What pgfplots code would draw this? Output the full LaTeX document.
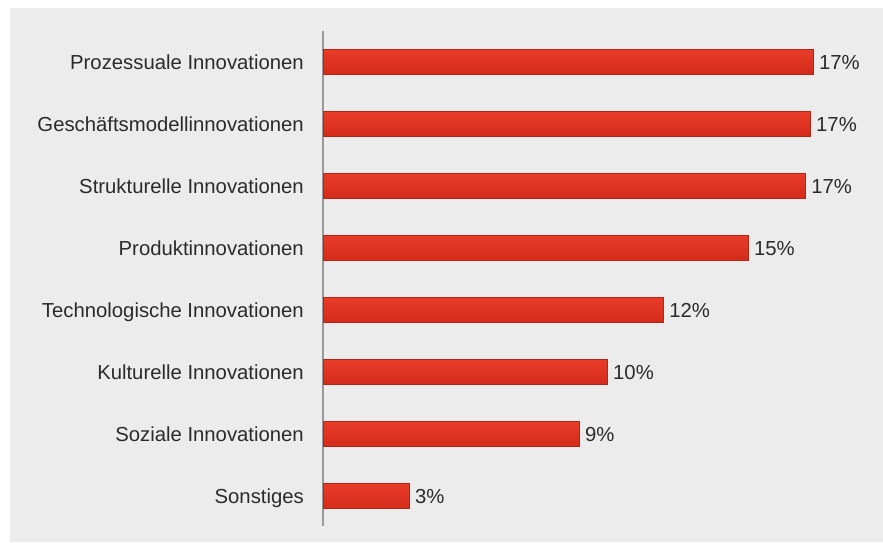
\documentclass[border=0pt]{standalone}
\usepackage{pgfplots}
\pgfplotsset{compat=1.18}
\usepackage{fontspec}
\setmainfont{Liberation Sans}
\definecolor{panel}{HTML}{ECECEC}
\definecolor{bartop}{HTML}{E83C29}
\definecolor{barbot}{HTML}{D42B1A}
\definecolor{txt}{HTML}{2B2B2B}
\definecolor{axl}{HTML}{9A9A9A}
\pgfplotsset{
  mybar/.style={xbar, bar width=25pt, draw=barbot!85!black, line width=0.3pt,
    top color=bartop, bottom color=barbot,
    point meta=explicit symbolic,
    nodes near coords,
    nodes near coords style={font=\fontsize{20.3}{23}\selectfont, text=txt, anchor=west, inner sep=0pt, xshift=6pt, text height=14.6pt, text depth=0pt}},
}
\begin{document}
\begin{tikzpicture}
\path[use as bounding box] (0,0) rectangle (883pt,542pt);
\fill[white] (0,0) rectangle (883pt,542pt);
\fill[panel] (10pt,0) rectangle (883pt,534pt);
\begin{axis}[
  at={(323pt,16pt)}, anchor=south west,
  width=560pt, height=495pt, scale only axis,
  xmin=0, xmax=19.478,
  ymin=-0.4839, ymax=7.5,
  hide x axis,
  axis y line*=left,
  y axis line style={draw=axl, line width=1.4pt, -},
  ytick={0,1,2,3,4,5,6,7},
  yticklabels={Sonstiges, Soziale Innovationen, Kulturelle Innovationen, Technologische Innovationen, Produktinnovationen, Strukturelle Innovationen, Geschäftsmodellinnovationen, Prozessuale Innovationen},
  ytick style={draw=none},
  yticklabel style={font=\fontsize{20.3}{23}\selectfont, text=txt, inner sep=0pt, anchor=east, xshift=-19pt, text height=14.6pt, text depth=0pt},
  clip=false,
  axis background/.style={fill=none},
]
\addplot[mybar] coordinates {(2.99,0) [3\%]};
\addplot[mybar] coordinates {(8.90,1) [9\%]};
\addplot[mybar] coordinates {(9.88,2) [10\%]};
\addplot[mybar] coordinates {(11.83,3) [12\%]};
\addplot[mybar] coordinates {(14.78,4) [15\%]};
\addplot[mybar] coordinates {(16.77,5) [17\%]};
\addplot[mybar] coordinates {(16.94,6) [17\%]};
\addplot[mybar] coordinates {(17.04,7) [17\%]};
\end{axis}
\end{tikzpicture}
\end{document}
